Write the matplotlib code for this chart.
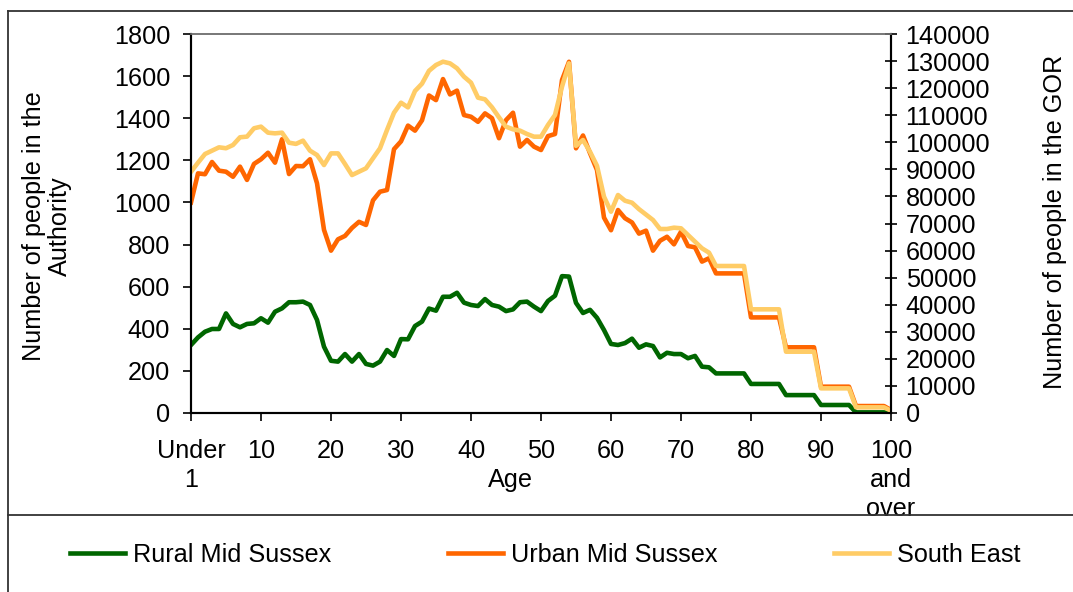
import matplotlib
matplotlib.use("Agg")
import matplotlib.pyplot as plt
from matplotlib.lines import Line2D

plt.rcParams['font.family'] = ['Liberation Sans', 'DejaVu Sans']

# ---------------- data ----------------
ages = list(range(0, 101))
tick_positions = [0, 10, 20, 30, 40, 50, 60, 70, 80, 90, 100]
tick_labels = ["Under\n1", "10", "20", "30", "40", "50", "60", "70", "80", "90", "100\nand\nover"]

rural = [323, 359, 386, 399, 399, 473, 423, 407, 423, 426,
         450, 429, 481, 497, 526, 526, 529, 513, 442, 315,
         248, 244, 280, 244, 280, 233, 225, 244, 299, 271,
         351, 350, 413, 434, 496, 486, 552, 552, 571, 524,
         513, 508, 541, 513, 505, 484, 492, 526, 529, 505,
         484, 532, 557, 650, 648, 523, 475, 490, 452, 394,
         328, 323, 332, 353, 310, 326, 318, 264, 286, 280,
         280, 260, 271, 220, 217, 188, 188, 188, 188, 188,
         138, 138, 138, 138, 138, 85, 85, 85, 85, 85,
         38, 38, 38, 38, 38, 3, 3, 3, 3, 3,
         2]

urban = [1000, 1138, 1134, 1192, 1151, 1146, 1122, 1170, 1107, 1183,
         1205, 1236, 1189, 1300, 1135, 1173, 1172, 1205, 1091, 870,
         771, 825, 841, 879, 908, 893, 1010, 1051, 1059, 1253,
         1290, 1365, 1341, 1390, 1508, 1486, 1586, 1513, 1531, 1415,
         1407, 1383, 1423, 1400, 1305, 1391, 1426, 1265, 1297, 1265,
         1249, 1315, 1325, 1581, 1668, 1257, 1318, 1234, 1154, 928,
         868, 964, 925, 905, 852, 866, 771, 818, 837, 801,
         861, 793, 787, 719, 735, 663, 663, 663, 663, 663,
         454, 454, 454, 454, 454, 312, 312, 312, 312, 312,
         125, 125, 125, 125, 125, 33, 33, 33, 33, 33,
         14]

south_east = [89100, 92460, 95670, 96900, 98140, 97800, 99000, 101840, 102100, 105170,
              105780, 103550, 103300, 103550, 99850, 99400, 100600, 96900, 95300, 91600,
              95900, 95900, 91980, 87900, 89140, 90380, 94080, 97780, 104540, 110930,
              114620, 112900, 118950, 121650, 126400, 128550, 129770, 129150, 127330, 124230,
              122020, 116480, 115870, 112920, 109220, 105770, 104790, 104300, 103060, 102070,
              102070, 106390, 110080, 120530, 129170, 98700, 100850, 96520, 91300, 79900,
              74360, 80530, 78420, 77680, 75300, 73300, 71290, 67970, 67970, 68460,
              68220, 65750, 63290, 60830, 59230, 54300, 54300, 54300, 54300, 54300,
              38300, 38300, 38300, 38300, 38300, 22650, 22650, 22650, 22650, 22650,
              9110, 9110, 9110, 9110, 9110, 2090, 2090, 2090, 2090, 2090,
              850]

series_names = ["Rural Mid Sussex", "Urban Mid Sussex", "South East"]
colors = ["#006600", "#FF6600", "#FFCC66"]

# ---------------- figure ----------------
W, H = 1073, 592
fig = plt.figure(figsize=(W / 100, H / 100), dpi=100)
FS = 18.2

L, R, T, B = 191, 891, 34, 413
ax = fig.add_axes([L / W, 1 - B / H, (R - L) / W, (B - T) / H])
ax2 = ax.twinx()

lw = 3.3
ax.plot(ages, rural, color=colors[0], lw=lw, label=series_names[0], solid_joinstyle='round')
ax.plot(ages, urban, color=colors[1], lw=lw, label=series_names[1], solid_joinstyle='round')
ax2.plot(ages, south_east, color=colors[2], lw=lw, label=series_names[2], solid_joinstyle='round')

ax.set_xlim(0, 100)
ax.set_ylim(0, 1800)
ax2.set_ylim(0, 140000)
ax.set_yticks(range(0, 1801, 200))
ax2.set_yticks(range(0, 140001, 10000))
ax.set_xticks(tick_positions)
ax.set_xticklabels(tick_labels, linespacing=1.25)

ax.tick_params(axis='y', direction='out', length=6, width=1.2, labelsize=FS, pad=9)
ax.tick_params(axis='x', direction='out', length=6, width=1.2, labelsize=FS, pad=13)
ax2.tick_params(axis='y', direction='inout', length=9, width=1.2, labelsize=FS, pad=6)

for a in (ax, ax2):
    a.spines['left'].set_linewidth(1.5)
    a.spines['bottom'].set_linewidth(1.5)
    a.spines['right'].set_linewidth(1.5)
    a.spines['top'].set_color('#777777')
    a.spines['top'].set_linewidth(1.2)
    a.patch.set_visible(False)

fig.text(47 / W, 1 - 226 / H, "Number of people in the\nAuthority", rotation=90,
         ha='center', va='center', fontsize=FS, multialignment='center', linespacing=1.1)
fig.text(1055 / W, 1 - 222 / H, "Number of people in the GOR", rotation=90,
         ha='center', va='center', fontsize=FS)
fig.text(510 / W, 1 - 480 / H, "Age", ha='center', va='center', fontsize=FS)

# outer frame and legend separator
frame_kw = dict(color='#333333', lw=1.3, transform=fig.transFigure)
fig.add_artist(Line2D([8 / W, 8 / W], [0, 1 - 11 / H], **frame_kw))
fig.add_artist(Line2D([8 / W, 1], [1 - 11 / H, 1 - 11 / H], **frame_kw))
fig.add_artist(Line2D([8 / W, 1], [1 - 515 / H, 1 - 515 / H], **frame_kw))

handles = ax.get_lines() + ax2.get_lines()
fig.legend(handles, series_names, loc='center', bbox_to_anchor=(545 / W, 1 - 555 / H),
           ncol=3, frameon=False, fontsize=FS, handlelength=2.2, handletextpad=0.3,
           columnspacing=4.6)

fig.savefig("out.png", dpi=100)
